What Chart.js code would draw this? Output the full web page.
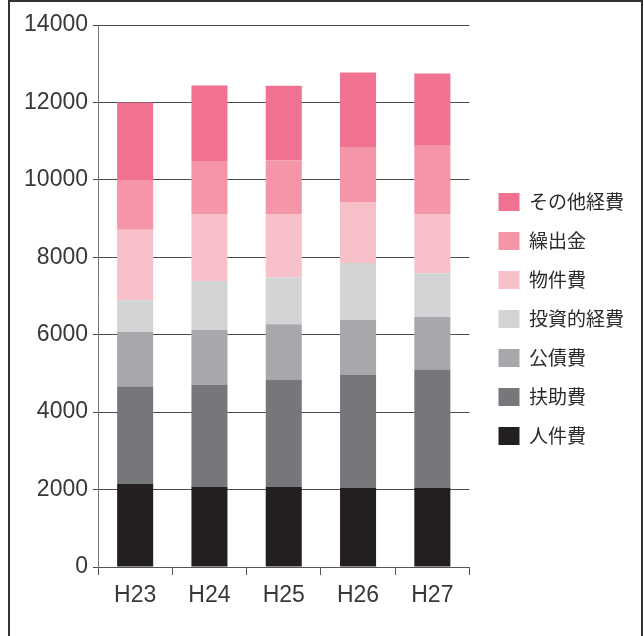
<!DOCTYPE html>
<html lang="ja">
<head>
<meta charset="utf-8">
<title>歳出の推移</title>
<script src="https://cdn.jsdelivr.net/npm/chart.js@4.4.1/dist/chart.umd.min.js"></script>
<style>
  html, body { margin: 0; padding: 0; background: #fff; }
  body { width: 644px; height: 636px; position: relative; overflow: hidden; }
  .frame {
    position: absolute; left: 8px; top: 0px; width: 635px; height: 700px;
    box-sizing: border-box; border: 2px solid #333;
  }
  #chart { position: absolute; left: 0; top: 0; }
</style>
</head>
<body>
<div class="frame"></div>
<canvas id="chart" width="644" height="636"></canvas>
<script>
// fiscal years
const years = ['H23', 'H24', 'H25', 'H26', 'H27'];

// expenditure by type, stacked bottom to top
const personnel  = [2150, 2070, 2070, 2050, 2050]; // 人件費
const assistance = [2510, 2630, 2770, 2910, 3050]; // 扶助費
const debt       = [1410, 1420, 1430, 1420, 1360]; // 公債費
const investment = [820, 1270, 1210, 1470, 1130];  // 投資的経費
const goods      = [1820, 1730, 1640, 1580, 1530]; // 物件費
const transfers  = [1270, 1370, 1380, 1420, 1760]; // 繰出金
const otherCosts = [2020, 1950, 1930, 1920, 1870]; // その他経費

const yTicks = [0, 2000, 4000, 6000, 8000, 10000, 12000, 14000];

const series = [
  { label: '人件費', data: personnel, color: '#231f20' },
  { label: '扶助費', data: assistance, color: '#76777b' },
  { label: '公債費', data: debt, color: '#a7a8ab' },
  { label: '投資的経費', data: investment, color: '#d3d4d6' },
  { label: '物件費', data: goods, color: '#f8c0c9' },
  { label: '繰出金', data: transfers, color: '#f495a8' },
  { label: 'その他経費', data: otherCosts, color: '#f07190' }
];

const numFont = { family: '"Liberation Sans", Arial, sans-serif', size: 23 };

// nudge legend away from the plot a bit
const legendGap = {
  id: 'legendGap',
  afterLayout(chart) {
    chart.legend.left += 9;
    chart.legend.right += 9;
  }
};

new Chart(document.getElementById('chart'), {
  type: 'bar',
  data: {
    labels: years,
    datasets: series.map(s => ({
      label: s.label,
      data: s.data,
      backgroundColor: s.color,
      borderWidth: 0,
      categoryPercentage: 1,
      barPercentage: 0.485
    }))
  },
  options: {
    responsive: false,
    animation: false,
    layout: { padding: { top: 25, right: 19, bottom: 23, left: 0 } },
    plugins: {
      tooltip: { enabled: false },
      legend: {
        position: 'right',
        reverse: true,
        labels: {
          boxWidth: 21,
          boxHeight: 18,
          padding: 20,
          color: '#2a2a2a',
          font: { family: '"Noto Sans CJK JP", sans-serif', size: 19 }
        }
      }
    },
    scales: {
      x: {
        stacked: true,
        afterFit: s => { s.height = 46; },
        grid: { offset: true, drawOnChartArea: false, drawTicks: true, tickLength: 8, color: '#555' },
        border: { color: '#555' },
        ticks: { color: '#383838', font: numFont, padding: 7 }
      },
      y: {
        stacked: true,
        min: 0,
        max: 14000,
        afterFit: s => { s.width = 98; },
        afterBuildTicks: s => { s.ticks = yTicks.map(v => ({ value: v })); },
        grid: { color: '#4a4a4a', tickLength: 5 },
        border: { color: '#777' },
        ticks: { color: '#383838', font: numFont, padding: 5, callback: v => String(v) }
      }
    }
  },
  plugins: [legendGap]
});
</script>
</body>
</html>
